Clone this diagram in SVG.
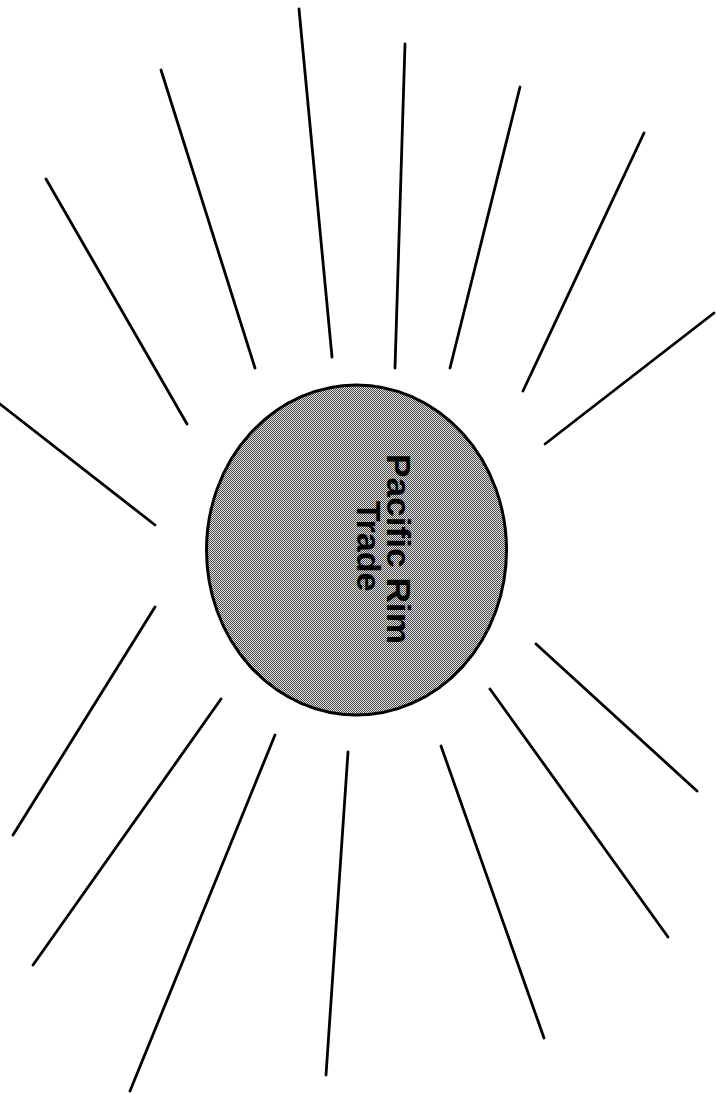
<svg xmlns="http://www.w3.org/2000/svg" width="717" height="1094" viewBox="0 0 717 1094">
<style>
.ray{stroke:#000;stroke-width:2.8;stroke-linecap:round;fill:none}
.lbl{font-family:"Liberation Sans",Arial,sans-serif;font-weight:bold;font-size:34px;fill:#000;text-anchor:middle}
</style>
<defs>
<pattern id="dither" width="2" height="2" patternUnits="userSpaceOnUse">
<rect width="2" height="2" fill="#e2e2e2"/>
<rect x="0" y="0" width="1" height="1" fill="#4a4a4a"/>
<rect x="1" y="1" width="1" height="1" fill="#4a4a4a"/>
</pattern>
</defs>
<rect width="717" height="1094" fill="#fff"/>
<g id="connectors">
<line class="ray" x1="0" y1="404" x2="155" y2="525"/>
<line class="ray" x1="46" y1="179" x2="187" y2="424"/>
<line class="ray" x1="161" y1="70" x2="255" y2="368"/>
<line class="ray" x1="299" y1="9" x2="332" y2="357"/>
<line class="ray" x1="405" y1="44" x2="395" y2="368"/>
<line class="ray" x1="520" y1="87" x2="450" y2="368"/>
<line class="ray" x1="644" y1="133" x2="523" y2="391"/>
<line class="ray" x1="714" y1="313" x2="545" y2="444"/>
<line class="ray" x1="155" y1="607" x2="13" y2="835"/>
<line class="ray" x1="221" y1="699" x2="33" y2="965"/>
<line class="ray" x1="275" y1="735" x2="130" y2="1091"/>
<line class="ray" x1="348" y1="752" x2="326" y2="1075"/>
<line class="ray" x1="441" y1="746" x2="544" y2="1038"/>
<line class="ray" x1="490" y1="689" x2="668" y2="937"/>
<line class="ray" x1="536" y1="644" x2="697" y2="791"/>
</g>
<g id="node-pacific-rim-trade">
<ellipse cx="356.5" cy="550" rx="150" ry="165" fill="url(#dither)" stroke="#000" stroke-width="3"/>
<text class="lbl" transform="translate(387,549) rotate(90)" textLength="190" lengthAdjust="spacingAndGlyphs">Pacific Rim</text>
<text class="lbl" transform="translate(357,546) rotate(90)">Trade</text>
</g>
</svg>
